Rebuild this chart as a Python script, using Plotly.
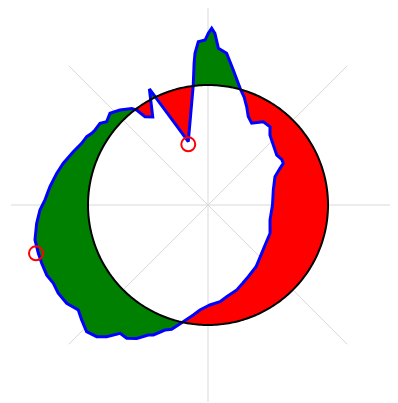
import numpy as np
import plotly.graph_objects as go

# ---- data ----
theta_deg = [0.0, 12.9, 22.9, 27.0, 29.0, 31.8, 36.0, 42.6, 48.5, 51.6, 56.4, 61.9, 65.5,
             68.5, 71.6, 74.1, 79.4, 83.0, 86.2, 87.7, 88.8, 89.9, 91.0, 93.4, 94.9, 95.6,
             97.0, 107.3, 116.8, 122.1, 125.5, 126.9, 128.3, 132.8, 136.9, 140.6, 142.9,
             146.4, 148.3, 150.6, 154.0, 158.4, 163.9, 168.2, 173.4, 178.2, 181.7, 186.1,
             191.4, 195.9, 199.3, 203.5, 206.8, 210.5, 214.8, 219.0, 222.3, 226.2, 229.8,
             232.4, 235.6, 238.6, 241.9, 245.3, 247.2, 251.0, 253.7, 258.0, 262.4, 265.6,
             271.1, 277.1, 281.5, 288.7, 293.9, 299.3, 307.9, 318.0, 323.5, 335.5, 346.4]
radius = [64.5, 67.0, 72.7, 80.8, 86.1, 86.7, 85.0, 88.7, 93.5, 99.9, 100.0, 92.7, 97.1,
          105.6, 114.1, 119.6, 137.4, 152.8, 157.0, 171.8, 176.7, 171.7, 165.0, 163.6, 152.3, 142.4,
          120.9, 66.3, 130.0, 104.0, 108.5, 118.8, 123.0, 129.5, 134.2, 131.2, 135.4,
          135.6, 136.6, 139.2, 140.6, 144.9, 150.6, 154.6, 159.1, 163.1, 168.1, 172.3,
          176.5, 176.4, 176.2, 175.8, 173.4, 173.8, 172.1, 166.9, 170.8, 175.4, 172.4,
          166.2, 155.6, 156.1, 151.2, 143.1, 141.0, 132.2, 129.5, 119.3, 111.0, 105.3,
          100.0, 97.4, 93.6, 89.7, 85.6, 82.2, 78.2, 72.2, 70.1, 68.2, 63.8]
circle_r = 120.0
marker_theta = [108.0, 195.7]
marker_r = [63.8, 178.7]
radial_max = 197.0

# ---- build fill polygons between curve and reference circle ----
th = np.array(theta_deg, dtype=float)
r = np.array(radius, dtype=float)
n = len(th)
d = r - circle_r
start = next(i for i in range(n) if np.sign(d[i]) != np.sign(d[i - 1]))
order = [(start + k) % n for k in range(n)]
ths = th[order].copy()
rs = r[order].copy()
for k in range(1, n):
    while ths[k] < ths[k - 1]:
        ths[k:] += 360.0


def cross(t0, r0, t1, r1):
    f = (circle_r - r0) / (r1 - r0)
    return t0 + f * (t1 - t0)


seq_t = list(ths) + [ths[0] + 360.0]
seq_r = list(rs) + [rs[0]]
c0 = cross(ths[-1] - 360.0, rs[-1], ths[0], rs[0])
runs = []
cur_t, cur_r = [c0], [circle_r]
for k in range(len(seq_t) - 1):
    cur_t.append(seq_t[k])
    cur_r.append(seq_r[k])
    if np.sign(seq_r[k + 1] - circle_r) != np.sign(seq_r[k] - circle_r):
        c = cross(seq_t[k], seq_r[k], seq_t[k + 1], seq_r[k + 1])
        cur_t.append(c)
        cur_r.append(circle_r)
        runs.append((cur_t, cur_r, seq_r[k] > circle_r))
        cur_t, cur_r = [c], [circle_r]

fig = go.Figure()
for rt, rr, outside in runs:
    span = rt[-1] - rt[0]
    m = max(int(abs(span)) + 2, 3)
    arc = list(np.linspace(rt[-1], rt[0], m))
    fig.add_trace(go.Scatterpolar(
        theta=rt + arc, r=rr + [circle_r] * m, mode="lines", fill="toself",
        fillcolor="#008000" if outside else "#ff0000",
        line=dict(width=0, color="rgba(0,0,0,0)"), hoverinfo="skip"))

fig.add_trace(go.Scatterpolar(theta=theta_deg + [theta_deg[0]], r=radius + [radius[0]],
                              mode="lines", line=dict(color="#0000ff", width=3)))
circ_t = np.linspace(0, 360, 361)
fig.add_trace(go.Scatterpolar(theta=circ_t, r=np.full_like(circ_t, circle_r), mode="lines",
                              line=dict(color="black", width=2)))
fig.add_trace(go.Scatterpolar(theta=marker_theta, r=marker_r, mode="markers",
                              marker=dict(symbol="circle-open", size=14, color="#ff0000",
                                          line=dict(width=2, color="#ff0000"))))

fig.update_layout(
    width=400, height=394, autosize=False,
    margin=dict(l=0, r=0, t=0, b=0, pad=0),
    paper_bgcolor="white", showlegend=False,
    polar=dict(
        domain=dict(x=[3 / 400, 397 / 400], y=[0, 1]),
        bgcolor="white",
        radialaxis=dict(range=[0, radial_max], showgrid=False, showline=False,
                        showticklabels=False, ticks=""),
        angularaxis=dict(rotation=0, direction="counterclockwise", dtick=45,
                         showgrid=True, gridcolor="#d9d9d9", gridwidth=1,
                         showline=False, showticklabels=False, ticks=""),
    ),
)
fig.write_html("out.html")
